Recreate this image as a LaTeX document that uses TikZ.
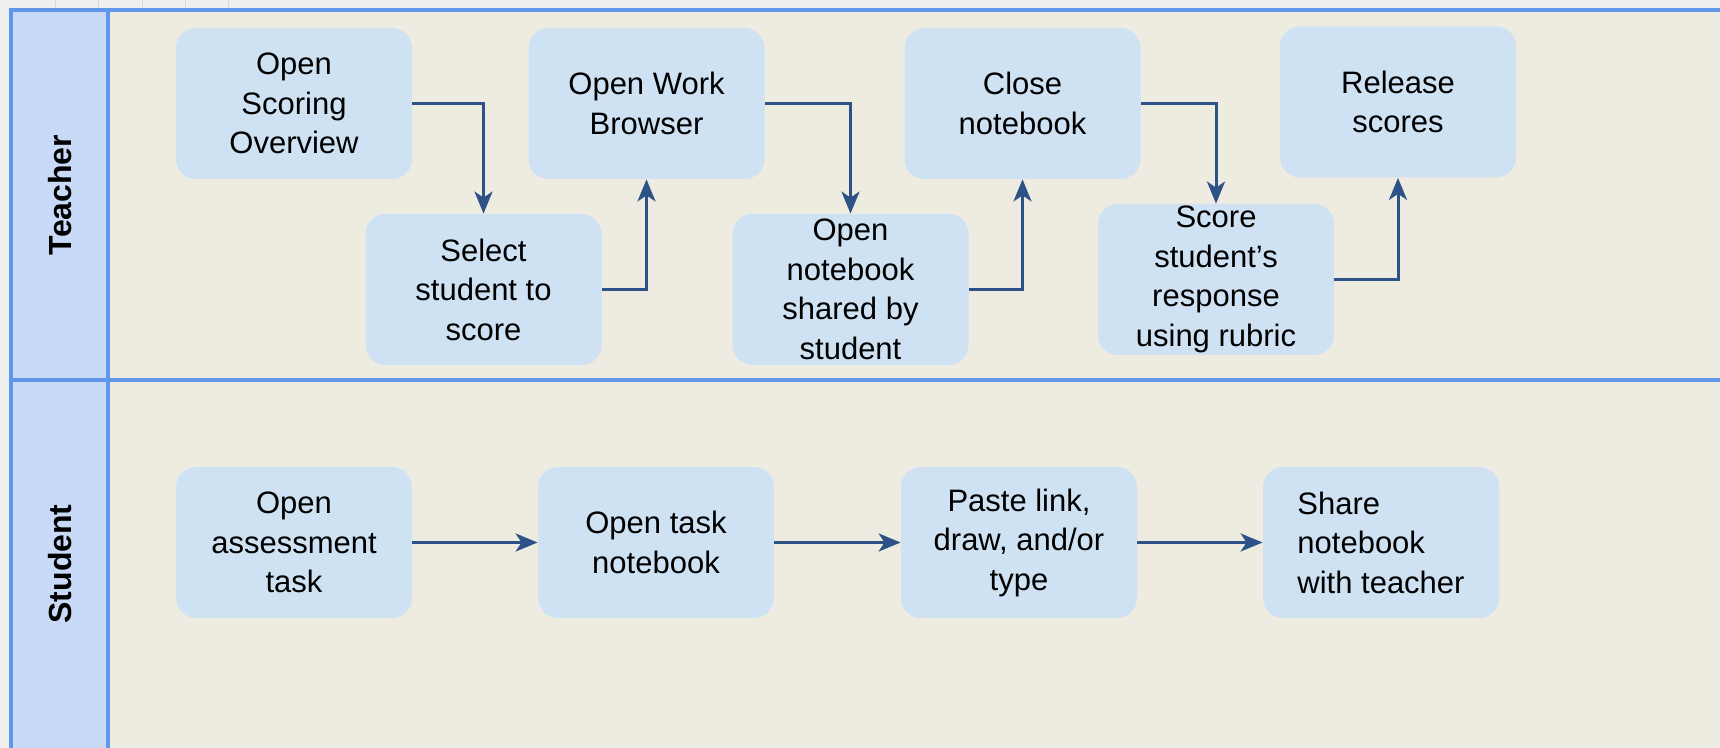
\documentclass[tikz,border=0pt]{standalone}
\usepackage{fontspec}
\setmainfont{Liberation Sans}
\usetikzlibrary{arrows.meta}
\definecolor{beige}{HTML}{EEECE1}
\definecolor{boxblue}{HTML}{CFE2F3}
\definecolor{headblue}{HTML}{C9DAF8}
\definecolor{framecol}{HTML}{6097EA}
\definecolor{arrcol}{HTML}{2C5288}
\definecolor{stripgray}{HTML}{EFEFEF}
\definecolor{gridgray}{HTML}{D9D9D9}
\tikzset{
  stepbox/.style={rounded corners=10pt, fill=boxblue, minimum width=118pt, minimum height=75.5pt,
    inner sep=0pt, align=center, font=\fontsize{15.5}{19.75}\selectfont},
  arr/.style={draw=arrcol, line width=1.5pt, -{Stealth[length=11pt,width=9pt,inset=3pt]}},
  framelines/.style={draw=framecol, line width=1.6pt},
  lanelabel/.style={rotate=90, font=\bfseries\fontsize{16}{19}\selectfont},
}
\begin{document}
\begin{tikzpicture}[x=0.5pt,y=-0.5pt]
\useasboundingbox (0,0) rectangle (1720,748);
% background
\fill[stripgray] (0,0) rectangle (1720,748);
\foreach \gx in {55,98,142,185,228} \draw[gridgray, line width=0.5pt] (\gx,0) -- (\gx,9);
\fill[beige] (11,10) rectangle (1720,748);
\fill[headblue] (11,10) rectangle (108,748);
\draw[framelines] (1720,10) -- (11,10) -- (11,748);
\draw[framelines] (108,10) -- (108,748);
\draw[framelines] (11,380) -- (1720,380);
% lane labels
\node[lanelabel] (tlabel) at (60,195) {Teacher};
\node[lanelabel] (slabel) at (60,564) {Student};
% teacher nodes
\node[stepbox] (oso) at (294,103.5) {Open\\Scoring\\Overview};
\node[stepbox] (sel) at (483.5,289.5) {Select\\student to\\score};
\node[stepbox] (owb) at (646.5,103.5) {Open Work\\Browser};
\node[stepbox] (onb) at (850.5,289.5) {Open\\notebook\\shared by\\student};
\node[stepbox] (cls) at (1022.5,103.5) {Close\\notebook};
\node[stepbox] (scr) at (1216,279.5) {Score\\student’s\\response\\using rubric};
\node[stepbox] (rel) at (1398,102) {Release\\scores};
% student nodes
\node[stepbox] (oat) at (294,542.5) {Open\\assessment\\task};
\node[stepbox] (otn) at (656,542.5) {Open task\\notebook};
\node[stepbox] (pst) at (1019,542.5) {Paste link,\\draw, and/or\\type};
\node[stepbox, align=left] (shr) at (1381,542.5) {Share\\notebook\\with teacher};
% teacher arrows
\draw[arr] (oso.east) -| (sel.north);
\draw[arr] (sel.east) -| (owb.south);
\draw[arr] (owb.east) -| (onb.north);
\draw[arr] (onb.east) -| (cls.south);
\draw[arr] (cls.east) -| (scr.north);
\draw[arr] (scr.east) -| (rel.south);
% student arrows
\draw[arr] (oat) -- (otn);
\draw[arr] (otn) -- (pst);
\draw[arr] (pst) -- (shr);
\end{tikzpicture}
\end{document}
